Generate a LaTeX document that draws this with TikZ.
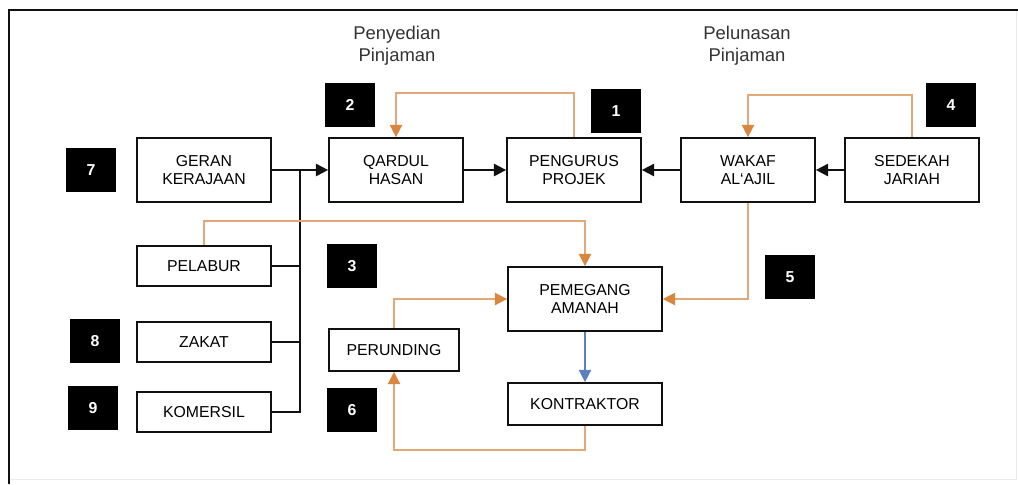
\documentclass[tikz,border=0pt]{standalone}
\usepackage{fontspec}
\setmainfont{Liberation Sans}
\usepackage{xcolor}
\usetikzlibrary{arrows.meta,calc,positioning}
\definecolor{flowblack}{HTML}{111111}
\definecolor{floworange}{HTML}{E2A878}
\definecolor{floworangetip}{HTML}{D9863F}
\definecolor{flowblue}{HTML}{5B80C0}
\definecolor{labelgray}{HTML}{333333}

\begin{document}
\begin{tikzpicture}[x=0.02cm, y=-0.02cm, >=Triangle, font=\fontsize{9}{10.5}\selectfont]
  \tikzset{
    unit/.style={rectangle, draw=flowblack, line width=1pt, fill=white, align=center, minimum width=2.68cm, minimum height=#1, inner sep=1pt},
    unit/.default=1.28cm,
    tag/.style={rectangle, fill=black, text=white, font=\fontsize{9}{10}\selectfont\bfseries, minimum width=1cm, minimum height=0.88cm, inner sep=0pt},
    heading/.style={align=center, text=labelgray, font=\fontsize{10.5}{12.5}\selectfont},
    solidflow/.style={draw=flowblack, line width=1.1pt, -{Triangle[length=7pt,width=7pt]}},
    feed/.style={draw=flowblack, line width=1.1pt},
    orangeflow/.style={draw=floworange, line width=0.9pt, -{Triangle[length=7pt,width=7pt,color=floworangetip]}},
    blueflow/.style={draw=flowblue, line width=0.9pt, -{Triangle[length=7pt,width=7pt]}}
  }
  % frame and bounding box
  \useasboundingbox (0,0) rectangle (1018,484);
  \draw[black!8, line width=0.5pt] (1016,10) -- (1016,479) -- (9,479);
  \draw[flowblack, line width=1.2pt] (9,484) -- (9,10) -- (1018,10);

  % headings
  \node[heading] (hprov) at (397,46) {Penyedian\\Pinjaman};
  \node[heading] (hpay) at (747,46) {Pelunasan\\Pinjaman};

  % main row
  \node[unit] (geran) at (204,170) {GERAN\\KERAJAAN};
  \node[unit] (qardul) at (396,170) {QARDUL\\HASAN};
  \node[unit] (pengurus) at (574,170) {PENGURUS\\PROJEK};
  \node[unit] (wakaf) at (748,170) {WAKAF\\AL`AJIL};
  \node[unit] (sedekah) at (912,170) {SEDEKAH\\JARIAH};

  % sources on the left
  \node[unit=0.8cm] (pelabur) at (204,266) {PELABUR};
  \node[unit=0.8cm] (zakat) at (204,342) {ZAKAT};
  \node[unit=0.8cm] (komersil) at (204,412) {KOMERSIL};

  % lower group
  \node[unit, minimum width=3.08cm] (pemegang) at (585,299) {PEMEGANG\\AMANAH};
  \node[unit=0.84cm, minimum width=2.6cm] (perunding) at (394,350) {PERUNDING};
  \node[unit=0.84cm, minimum width=3.08cm] (kontraktor) at (585,404) {KONTRAKTOR};

  % numbered tags
  \node[tag] (n1) at (616,111) {1};
  \node[tag] (n2) at (350,105) {2};
  \node[tag] (n3) at (352,266) {3};
  \node[tag] (n4) at (951,105) {4};
  \node[tag] (n5) at (790,277) {5};
  \node[tag] (n6) at (352,410) {6};
  \node[tag] (n7) at (91,170) {7};
  \node[tag] (n8) at (95,341) {8};
  \node[tag] (n9) at (93,408) {9};

  % funding bus
  \coordinate (bus) at (300,170);
  \draw[feed] (pelabur.east) -- (pelabur.east -| bus);
  \draw[feed] (zakat.east) -- (zakat.east -| bus);
  \draw[feed] (komersil.east) -- (komersil.east -| bus) -- (bus);
  \draw[solidflow] (geran.east) -- (qardul.west);

  % black arrows in the top row
  \draw[solidflow] (qardul) -- (pengurus);
  \draw[solidflow] (wakaf) -- (pengurus);
  \draw[solidflow] (sedekah) -- (wakaf);

  % orange loops
  \draw[orangeflow] (pengurus.north) -- ++(0,-44) -| (qardul.north);
  \draw[orangeflow] (sedekah.north) -- ++(0,-42) -| (wakaf.north);
  \draw[orangeflow] (pelabur.north) -- ++(0,-24) -| (pemegang.north);
  \draw[orangeflow] (perunding.north) |- (pemegang.west);
  \draw[orangeflow] (wakaf.south) |- (pemegang.east);
  \draw[orangeflow] (kontraktor.south) -- ++(0,24) -| (perunding.south);

  % blue arrow
  \draw[blueflow] (pemegang) -- (kontraktor);
\end{tikzpicture}
\end{document}
